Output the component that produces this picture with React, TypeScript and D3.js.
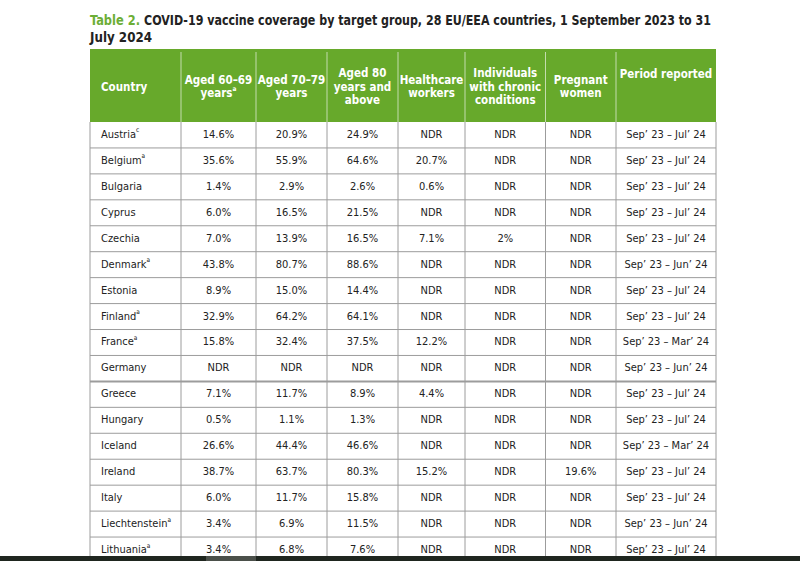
import React from "react";
import * as d3 from "d3";

const countries = ["Austria", "Belgium", "Bulgaria", "Cyprus", "Czechia", "Denmark", "Estonia", "Finland", "France", "Germany", "Greece", "Hungary", "Iceland", "Ireland", "Italy", "Liechtenstein", "Lithuania"];
const countryNotes = ["c", "a", "", "", "", "a", "", "a", "a", "", "", "", "", "", "", "a", "a"];
const aged6069 = ["14.6%", "35.6%", "1.4%", "6.0%", "7.0%", "43.8%", "8.9%", "32.9%", "15.8%", "NDR", "7.1%", "0.5%", "26.6%", "38.7%", "6.0%", "3.4%", "3.4%"];
const aged7079 = ["20.9%", "55.9%", "2.9%", "16.5%", "13.9%", "80.7%", "15.0%", "64.2%", "32.4%", "NDR", "11.7%", "1.1%", "44.4%", "63.7%", "11.7%", "6.9%", "6.8%"];
const aged80 = ["24.9%", "64.6%", "2.6%", "21.5%", "16.5%", "88.6%", "14.4%", "64.1%", "37.5%", "NDR", "8.9%", "1.3%", "46.6%", "80.3%", "15.8%", "11.5%", "7.6%"];
const healthcare = ["NDR", "20.7%", "0.6%", "NDR", "7.1%", "NDR", "NDR", "NDR", "12.2%", "NDR", "4.4%", "NDR", "NDR", "15.2%", "NDR", "NDR", "NDR"];
const chronic = ["NDR", "NDR", "NDR", "NDR", "2%", "NDR", "NDR", "NDR", "NDR", "NDR", "NDR", "NDR", "NDR", "NDR", "NDR", "NDR", "NDR"];
const pregnant = ["NDR", "NDR", "NDR", "NDR", "NDR", "NDR", "NDR", "NDR", "NDR", "NDR", "NDR", "NDR", "NDR", "19.6%", "NDR", "NDR", "NDR"];
const periods = ["Sep’ 23 – Jul’ 24", "Sep’ 23 – Jul’ 24", "Sep’ 23 – Jul’ 24", "Sep’ 23 – Jul’ 24", "Sep’ 23 – Jul’ 24", "Sep’ 23 – Jun’ 24", "Sep’ 23 – Jul’ 24", "Sep’ 23 – Jul’ 24", "Sep’ 23 – Mar’ 24", "Sep’ 23 – Jun’ 24", "Sep’ 23 – Jul’ 24", "Sep’ 23 – Jul’ 24", "Sep’ 23 – Mar’ 24", "Sep’ 23 – Jul’ 24", "Sep’ 23 – Jul’ 24", "Sep’ 23 – Jun’ 24", "Sep’ 23 – Jul’ 24"];

const headers: { lines: string[]; sup?: string; align?: "start" | "middle"; top?: number }[] = [
  { lines: ["Country"], align: "start" },
  { lines: ["Aged 60–69", "years"], sup: "a" },
  { lines: ["Aged 70–79", "years"] },
  { lines: ["Aged 80", "years and", "above"] },
  { lines: ["Healthcare", "workers"] },
  { lines: ["Individuals", "with chronic", "conditions"] },
  { lines: ["Pregnant", "women"] },
  { lines: ["Period reported"], top: 1 },
];

const titleLabel = "Table 2.";
const titleLine1 = "COVID-19 vaccine coverage by target group, 28 EU/EEA countries, 1 September 2023 to 31";
const titleLine2 = "July 2024";

const colEdges = [90, 181, 256, 327, 398, 465, 545.5, 616, 716];
const FONT = "'DejaVu Sans', sans-serif";

export default function App() {
  const W = 800, H = 561;
  const headTop = 49, headBottom = 122;
  const rowH = 25.94;
  const y = d3.scaleBand<string>().domain(countries).range([headBottom, headBottom + rowH * countries.length]).paddingInner(0).paddingOuter(0);
  const columns = [aged6069, aged7079, aged80, healthcare, chronic, pregnant, periods];
  const green = "#67a92b";
  const grid = "#9c9c9c";
  const bottom = headBottom + rowH * countries.length;
  const headMid = 86.5;
  const lineH = 13.4;

  return (
    <svg width={W} height={H} style={{ position: "absolute", left: 0, top: 0, background: "#fff", fontStretch: "condensed" }} fontFamily={FONT}>
      <rect x={0} y={0} width={W} height={H} fill="#ffffff" />
      {/* title */}
      <text x={90} y={25} fontSize={14} fontWeight="bold" fill="#6cae36" textLength={50} lengthAdjust="spacingAndGlyphs">{titleLabel}</text>
      <text x={144} y={25} fontSize={14} fontWeight="bold" fill="#222" textLength={567} lengthAdjust="spacingAndGlyphs">{titleLine1}</text>
      <text x={90} y={42} fontSize={14} fontWeight="bold" fill="#222" textLength={62} lengthAdjust="spacingAndGlyphs">{titleLine2}</text>

      {/* header */}
      <rect x={colEdges[0]} y={headTop} width={colEdges[8] - colEdges[0]} height={headBottom - headTop} fill={green} />
      {colEdges.slice(1, -1).map((x, i) => (
        <line key={"hd" + i} x1={x} x2={x} y1={headTop + 3} y2={headBottom} stroke="#c4dcae" strokeWidth={1} />
      ))}
      {headers.map((h, i) => {
        const x0 = colEdges[i], x1 = colEdges[i + 1];
        const n = h.lines.length;
        const startY = h.top ? 74 : headMid - ((n - 1) * lineH) / 2;
        const anchor = h.align === "start" ? "start" : "middle";
        const tx = h.align === "start" ? x0 + 11 : (x0 + x1) / 2;
        return (
          <text key={"h" + i} x={tx} fontSize={11.5} fontWeight="bold" fill="#ffffff" textAnchor={anchor} dominantBaseline="central">
            {h.lines.map((l, j) => (
              <tspan key={j} x={tx} y={startY + j * lineH}>
                {l}
                {h.sup && j === n - 1 ? <tspan fontSize={6.5} dy={-4}>{h.sup}</tspan> : null}
              </tspan>
            ))}
          </text>
        );
      })}

      {/* body grid */}
      {countries.map((c) => (
        <line key={"r" + c} x1={colEdges[0]} x2={colEdges[8]} y1={(y(c) as number) + rowH} y2={(y(c) as number) + rowH} stroke={grid} strokeWidth={c === "Germany" ? 2 : 1} />
      ))}
      {colEdges.map((x, i) => (
        <line key={"v" + i} x1={x} x2={x} y1={headBottom} y2={bottom} stroke={grid} strokeWidth={1} />
      ))}

      {/* body text */}
      {countries.map((c, r) => {
        const cy = (y(c) as number) + y.bandwidth() / 2 - 0.5;
        return (
          <g key={"t" + c} fontSize={11} fill="#222">
            <text x={colEdges[0] + 11} y={cy} dominantBaseline="central">
              {c}
              {countryNotes[r] ? <tspan fontSize={6.5} dy={-4}>{countryNotes[r]}</tspan> : null}
            </text>
            {columns.map((col, k) => (
              <text key={k} x={(colEdges[k + 1] + colEdges[k + 2]) / 2} y={cy} textAnchor="middle" dominantBaseline="central">
                {col[r]}
              </text>
            ))}
          </g>
        );
      })}

      {/* bottom dark strip */}
      <rect x={0} y={556} width={W} height={H - 556} fill="#1f261f" />
      <rect x={206} y={556} width={50} height={H - 556} fill="#4b504a" />
    </svg>
  );
}
